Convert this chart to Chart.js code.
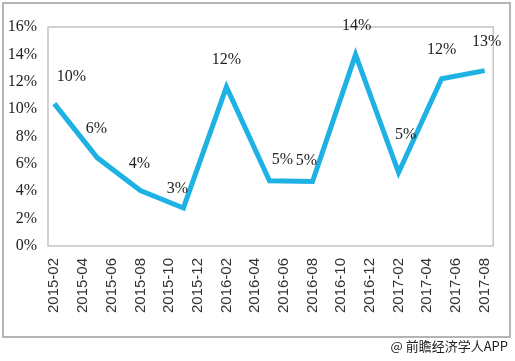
<!DOCTYPE html>
<html>
<head>
<meta charset="utf-8">
<script src="https://cdn.jsdelivr.net/npm/chart.js@4/dist/chart.umd.min.js"></script>
<style>
html,body{margin:0;padding:0;background:#fff;}
#wrap{position:relative;width:515px;height:361px;}
</style>
</head>
<body>
<div id="wrap"><canvas id="c" width="515" height="361"></canvas></div>
<script>
// Axis category labels (bimonthly)
const categories = ["2015-02","2015-04","2015-06","2015-08","2015-10","2015-12","2016-02","2016-04","2016-06","2016-08","2016-10","2016-12","2017-02","2017-04","2017-06","2017-08"];
// Series values (%) - 11 observations spread evenly across the axis
const growthValues = [10.4, 6.44, 4.05, 2.78, 11.62, 4.76, 4.71, 13.98, 5.37, 12.22, 12.81];
// Position of each observation on the category axis (category index units)
const pointPositions = [0, 1.5, 3, 4.5, 6, 7.5, 9, 10.5, 12, 13.5, 15];
// Y tick values
const yTicks = [0, 2, 4, 6, 8, 10, 12, 14, 16];

const labelNudge = [[17,-27],[-1,-29],[-1,-27],[-6,-19],[0,-27],[13,-21],[-6,-21],[1,-29],[7,-38],[0,-29],[2,-29]];

const framePlugin = {
  id: 'frame',
  beforeDraw(chart) {
    const ctx = chart.ctx, a = chart.chartArea;
    ctx.save();
    ctx.fillStyle = '#fff';
    ctx.fillRect(0, 0, chart.width, chart.height);
    ctx.strokeStyle = '#b5b5b5';
    ctx.lineWidth = 2;
    ctx.strokeRect(3, 3, 507, 334);
    ctx.lineWidth = 1.5;
    ctx.strokeStyle = '#c4c4c4';
    ctx.strokeRect(a.left, a.top, a.right - a.left, a.bottom - a.top);
    ctx.restore();
  },
  afterDraw(chart) {
    const ctx = chart.ctx;
    ctx.save();
    const meta = chart.getDatasetMeta(0);
    ctx.font = '16px "Liberation Serif", "Times New Roman", serif';
    ctx.fillStyle = '#222';
    ctx.textAlign = 'center';
    ctx.textBaseline = 'middle';
    meta.data.forEach((pt, i) => {
      const v = chart.data.datasets[0].data[i].y;
      const n = labelNudge[i] || [0, -28];
      ctx.fillText(Math.round(v) + '%', pt.x + n[0], pt.y + n[1]);
    });
    ctx.font = '13px "Noto Sans CJK SC", sans-serif';
    ctx.fillStyle = '#222';
    ctx.textAlign = 'right';
    ctx.fillText('@ 前瞻经济学人APP', 508, 346);
    ctx.restore();
  }
};

new Chart(document.getElementById('c'), {
  type: 'line',
  data: {
    datasets: [{
      data: growthValues.map((v, i) => ({ x: pointPositions[i], y: v })),
      borderColor: '#1eb2e4',
      borderWidth: 5,
      pointRadius: 0,
      tension: 0,
      fill: false,
      borderJoinStyle: 'miter'
    }]
  },
  options: {
    responsive: false,
    animation: false,
    devicePixelRatio: 1,
    layout: { padding: { left: 0, top: 27, right: 18, bottom: 0 } },
    plugins: { legend: { display: false }, tooltip: { enabled: false } },
    scales: {
      x: {
        type: 'linear',
        min: -0.22,
        max: 15.3,
        afterBuildTicks(scale) { scale.ticks = categories.map((c, i) => ({ value: i })); },
        afterFit(scale) { scale.height = 115; },
        grid: { display: false, drawTicks: false },
        border: { display: false },
        ticks: {
          autoSkip: false,
          maxRotation: 90,
          minRotation: 90,
          padding: 12,
          color: '#333',
          font: { family: '"Liberation Sans", Arial, sans-serif', size: 15 },
          callback: (v) => categories[Math.round(v)]
        }
      },
      y: {
        min: 0,
        max: 16,
        afterBuildTicks(scale) { scale.ticks = yTicks.map(v => ({ value: v })); },
        afterFit(scale) { scale.width = 48; },
        grid: { display: false, drawTicks: false },
        border: { display: false },
        ticks: {
          padding: 11,
          color: '#222',
          font: { family: '"Liberation Serif", "Times New Roman", serif', size: 16 },
          callback: (v) => v + '%'
        }
      }
    }
  },
  plugins: [framePlugin]
});
</script>
</body>
</html>
